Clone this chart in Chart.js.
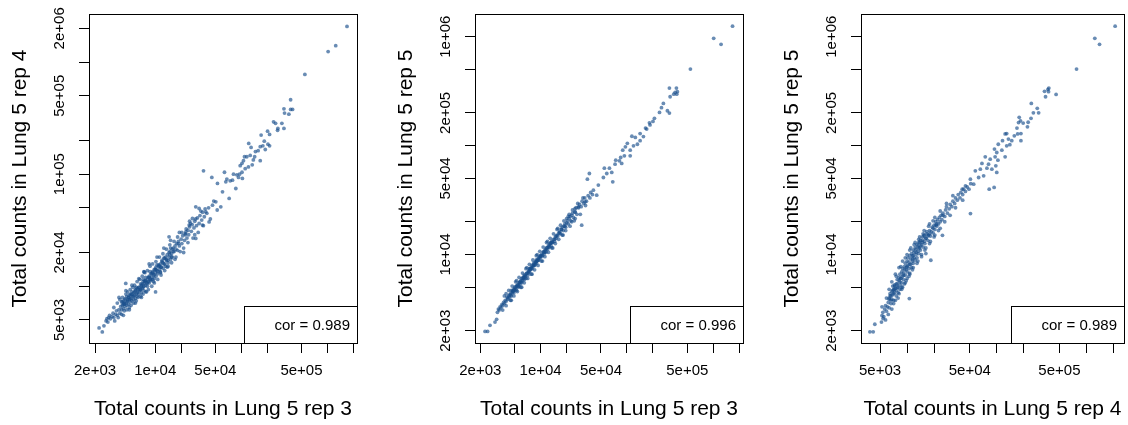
<!DOCTYPE html>
<html>
<head>
<meta charset="utf-8">
<title>Lung 5 replicate counts</title>
<script src="https://cdn.jsdelivr.net/npm/chart.js@4.4.1/dist/chart.umd.min.js"></script>
<style>
  body { margin: 0; background: #fff; }
  #wrap { position: relative; width: 1128px; height: 425px; overflow: hidden; }
  #wrap canvas { position: absolute; top: 0; }
</style>
</head>
<body>
<div id="wrap">
  <canvas id="rep3rep4" width="376" height="425" style="left:0px"></canvas>
  <canvas id="rep3rep5" width="376" height="425" style="left:376px"></canvas>
  <canvas id="rep4rep5" width="376" height="425" style="left:752px"></canvas>
</div>
<script>
// total counts per gene, [first replicate, second replicate]
const rep3VsRep4 = [
  [1690000, 2080000], [1250000, 1400000], [1020000, 1240000], [548000, 776000], [374000, 461000],
  [313000, 383000], [374000, 378000], [394000, 378000], [318000, 351000], [357000, 343000],
  [237000, 293000], [250000, 284000], [296000, 284000], [266000, 256000], [264000, 246000],
  [313000, 256000], [170000, 223000], [202000, 242000], [213000, 226000], [185000, 197000],
  [122000, 188000], [130000, 173000], [204000, 185000], [213000, 179000], [190000, 166000],
  [178000, 179000], [166000, 176000], [157000, 162000], [146000, 159000], [127000, 147000],
  [116000, 143000], [109000, 143000], [106000, 132000], [143000, 143000], [138000, 134000],
  [166000, 132000], [102000, 125000], [97100, 119000], [134000, 121000], [121000, 116000],
  [111000, 112000], [102000, 104000], [95400, 100000], [88800, 98700], [81200, 100000],
  [36400, 107000], [45500, 93400], [63800, 104000], [68000, 90300], [74300, 87200], [92800, 93400],
  [52900, 82600], [66100, 85500], [79100, 88300], [86400, 74500], [60500, 69600], [72300, 60700],
  [50600, 56600], [29600, 51100], [32400, 49400], [38700, 46100], [46300, 52900], [57800, 51100],
  [27100, 40200], [24800, 35100], [35400, 35100], [42300, 37500], [22700, 30600], [29600, 26700],
  [103000, 91500], [4550, 10600], [7430, 13400], [14500, 27600], [10100, 8900],
  [2230, 4250], [2430, 3910], [2540, 4430],
  [2690, 4900], [2750, 5130], [2820, 4790], [2880, 5250], [2950, 5500], [3020, 5130], [3160, 5370],
  [3240, 5750], [3310, 5250], [3470, 5620], [3550, 6030], [3630, 5500], [3800, 6170], [3890, 5750],
  [3980, 6610], [4070, 6170], [4070, 7240], [4170, 6760], [4270, 6310], [4270, 7410], [4370, 6920],
  [4470, 6610], [4470, 7760], [4570, 7080], [4680, 6760], [4680, 8130], [4790, 7410], [4900, 6920],
  [4900, 7940], [5010, 7590], [5130, 7240], [5130, 8510], [5250, 7760], [5370, 7410], [5370, 8910],
  [5500, 8130], [5620, 7590], [5620, 8710], [5750, 8320], [5890, 7760], [5890, 9330], [6030, 8510],
  [6170, 8130], [6170, 9550], [6310, 8910],
  [6460, 9770], [6460, 8510], [6610, 9120], [6760, 10500], [6760, 9330], [6920, 8710], [6920, 10200],
  [7080, 9550], [7240, 11000], [7240, 9770], [7410, 10500], [7410, 9120], [7590, 11200], [7760, 10200],
  [7760, 12000], [7940, 10700], [8130, 11500], [8130, 10000], [8320, 11000], [8510, 12300], [8510, 10700],
  [8710, 11500], [8910, 12900], [8910, 11200], [9120, 12000], [9330, 11500], [9330, 13500], [9550, 12600],
  [9770, 11700], [9770, 14100],
  [10000, 13200], [10200, 12300], [10200, 14800], [10500, 13800], [10700, 12900], [11000, 15100],
  [11200, 14100], [11500, 15800], [11500, 13500], [11700, 14800], [12000, 16600], [12300, 14500],
  [12600, 15800], [12900, 17800], [13200, 15100], [13500, 17000], [13800, 19100], [14100, 16200],
  [14500, 18200], [14800, 20400], [15100, 17400], [15500, 19500], [15800, 21400], [15800, 18200],
  [16600, 20400], [17000, 22900], [17400, 21400], [17800, 24000], [18200, 20900], [18600, 25100],
  [19100, 22900], [20000, 26300], [20400, 24000], [20900, 28200], [21900, 25700], [22400, 29500],
  [23400, 26900], [24000, 31600], [24500, 28800], [25100, 33900],
  [26300, 30900], [26900, 35500], [28200, 33100], [28800, 38000], [30200, 34700], [30900, 40700],
  [32400, 36300], [33100, 42700], [34700, 38900], [35500, 45700], [37200, 41700], [38000, 49000],
  [39800, 44700],
  [3310, 6460], [3390, 4900], [3630, 7080], [3720, 5250], [3890, 7590], [4070, 5620], [4170, 7940],
  [4370, 6030], [4570, 8510], [4680, 6170], [4790, 8910], [5010, 6460], [5130, 9330], [5250, 6760],
  [5500, 9770], [5620, 7080], [5750, 10200], [6030, 7410], [6170, 11000], [6310, 7940], [6610, 11500],
  [6760, 8130], [7080, 12300], [7240, 8510], [7590, 13200], [7760, 8910], [8130, 13800], [8320, 9330],
  [8710, 15100], [9120, 10000], [9330, 15800], [9770, 10700], [10200, 16600], [10700, 11500],
  [11200, 18200], [11700, 12600], [12300, 19500], [12900, 13800], [13500, 21400], [14100, 15100],
  [14800, 23400], [15500, 16200], [16600, 25100], [17400, 18200], [18200, 27500], [19500, 20400],
  [20400, 30200], [21400, 21900], [22900, 32400], [24000, 24500], [25700, 36300], [27500, 26900],
  [29500, 39800], [31600, 30200], [33900, 46800], [36300, 34700], [41700, 50100], [43700, 39800],
  [47900, 57500], [52500, 47900],
  [4370, 7080], [4790, 7590], [5250, 8320], [5750, 8910], [6310, 9330], [6920, 10000], [7590, 11000],
  [8320, 12000], [9120, 12900], [10000, 14100], [11000, 15500], [12000, 17000], [13200, 18200],
  [14500, 20000], [16200, 21900], [4170, 7240], [5010, 8320], [6030, 9770], [7240, 11500], [8710, 13500],
  [10500, 15500], [12600, 17800], [15100, 21900], [18600, 24000], [22400, 28800],
  [3800, 7940], [4270, 5500], [4570, 9120], [5010, 6170], [5370, 10200], [5890, 7080], [6460, 11700],
  [6920, 7940], [7410, 13500], [7940, 8910], [8510, 15800], [9550, 11000], [10500, 18200], [11500, 13200],
  [12600, 21900], [13800, 14800], [15100, 25700], [17000, 17400], [19100, 30200], [21400, 20000],
  [25100, 38000], [28800, 28800],
  [4270, 6920], [4470, 7590], [4680, 7240], [4900, 7940], [5130, 7760], [5370, 8510], [5620, 8130],
  [5890, 9120], [6170, 8710], [6460, 9770], [6760, 9330], [7080, 10500], [7410, 10000], [7760, 11200],
  [8130, 10700], [8510, 12000], [8910, 11500], [9330, 13200], [9770, 12600], [10200, 14100],
  [10700, 13500], [11200, 15100], [11700, 14800], [12300, 16200], [12900, 15800], [13500, 17400],
  [14100, 17000], [14800, 19100], [15500, 18200], [16200, 20400]
];

const rep3VsRep5 = [
  [1670000, 1250000], [1010000, 966000], [1230000, 851000], [543000, 505000], [310000, 338000],
  [374000, 338000], [361000, 308000], [384000, 313000], [377000, 297000], [348000, 297000],
  [316000, 281000], [264000, 244000], [251000, 223000], [238000, 202000], [294000, 209000],
  [310000, 199000], [208000, 178000], [200000, 167000], [182000, 162000], [185000, 155000],
  [164000, 145000], [142000, 129000], [169000, 142000], [114000, 122000], [125000, 119000],
  [155000, 121000], [142000, 111000], [132000, 103000], [101000, 105000], [95900, 97500],
  [119000, 99600], [109000, 90900], [89300, 90900], [93300, 80600], [109000, 80600], [84600, 77800],
  [74100, 73600], [81700, 72600], [72800, 67600], [86900, 68600], [54700, 62100], [62600, 62100],
  [66600, 56700], [58300, 55500], [53300, 51000], [36700, 55500], [34800, 49200], [68400, 46500],
  [46600, 43400], [40800, 39000], [44600, 35100], [32700, 30500], [27400, 27400], [25000, 24700],
  [29900, 18600], [22900, 20000], [20000, 21400], [25000, 26400],
  [2270, 1970], [2430, 1970], [2590, 2240], [2960, 2400], [3090, 2540],
  [3160, 2950], [3240, 3160], [3310, 3090], [3390, 3310], [3470, 3240], [3550, 3470], [3630, 3390],
  [3720, 3630], [3800, 3550], [3890, 3800], [3980, 3720], [4070, 4070], [4170, 3890], [4270, 4170],
  [4370, 4070], [4470, 4370],
  [4570, 4170], [4570, 4680], [4680, 4470], [4790, 4570], [4900, 4790], [4900, 4470], [5010, 5010],
  [5130, 4790], [5250, 5130], [5250, 4680], [5370, 5250], [5500, 5010], [5620, 5500], [5620, 5130],
  [5750, 5370], [5890, 5750], [6030, 5500], [6030, 6030], [6170, 5750], [6310, 6170], [6460, 5890],
  [6460, 6460], [6610, 6310], [6760, 6030], [6920, 6760], [7080, 6460],
  [7240, 7080], [7410, 6920], [7410, 7410], [7590, 7240], [7760, 7590], [7940, 7410], [7940, 7940],
  [8130, 7760], [8320, 8320], [8510, 7940], [8710, 8510], [8910, 8320], [8910, 8910], [9120, 8710],
  [9330, 9120], [9550, 8910], [9770, 9550], [10000, 9330], [10200, 10000], [10500, 9770], [10700, 10500],
  [11000, 10200], [11200, 11000],
  [11500, 10500], [11700, 11500], [12000, 11200], [12300, 12000], [12600, 11700], [12900, 12600],
  [13200, 12000], [13500, 13200], [13800, 12900], [14100, 13800], [14500, 13200], [14800, 14500],
  [15100, 14100], [15500, 15100], [15800, 14800], [16200, 15800], [16600, 16200], [17000, 15500],
  [17400, 17000], [17800, 17800], [18200, 16600], [18600, 18200], [19100, 19100], [19500, 17800],
  [20000, 19500],
  [20400, 20400], [20900, 19100], [21400, 21400], [21900, 22400], [22400, 20400], [22900, 22900],
  [23400, 24000], [24000, 21900], [25100, 24500], [25700, 26900], [26300, 23400], [27500, 26900],
  [28200, 28800], [29500, 27500], [30200, 30900], [31600, 29500], [32400, 33100], [33900, 30900],
  [35500, 34700], [37200, 33100], [38000, 37200], [39800, 35500],
  [3630, 3090], [3800, 4170], [3980, 3390], [4270, 4680], [4470, 3800], [4680, 5130], [4900, 4170],
  [5130, 5620], [5370, 4570], [5620, 6170], [5890, 5010], [6170, 6760], [6460, 5500], [6760, 7410],
  [7080, 6030], [7410, 8130], [7760, 6610], [8130, 8910], [8510, 7240], [8910, 9770], [9330, 7940],
  [9770, 10700], [10200, 8710], [10700, 11700], [11200, 9550], [11700, 12900], [12300, 10500],
  [12900, 14100], [13500, 11500], [14100, 15500], [14800, 12600], [15500, 17000], [16200, 13800],
  [17000, 18600], [17800, 15100], [18600, 20400], [19500, 16600], [20900, 22400], [21900, 18200],
  [23400, 25700], [24500, 20400], [26900, 29500], [28800, 23400], [30900, 33100], [33100, 28200],
  [4170, 3980], [4790, 4680], [5500, 5250], [6310, 6030], [7240, 6920], [8320, 7940], [9550, 9330],
  [11000, 10500], [12600, 12300], [14500, 13800], [16600, 15800], [19100, 18200], [4370, 4270],
  [5010, 4900], [5750, 5620], [6610, 6460], [7590, 7410], [8710, 8510], [10000, 9770], [11500, 11200],
  [13200, 12900], [15100, 14800], [17400, 17000],
  [3980, 4370], [4570, 3800], [5250, 5750], [6030, 5010], [6920, 7590], [7940, 6610], [9120, 10000],
  [10500, 8710], [12000, 13200], [13800, 11500], [15800, 17400], [18200, 15100], [21400, 23400],
  [25100, 21400],
  [4520, 4270], [4730, 4620], [4950, 4680], [5190, 5070], [5430, 5130], [5690, 5560], [5960, 5620],
  [6240, 6100], [6530, 6170], [6840, 6680], [7160, 6760], [7500, 7330], [7850, 7410], [8220, 8040],
  [8610, 8130], [9020, 8810], [9440, 8910], [9890, 9660], [10400, 9770], [10800, 10600], [11400, 10700],
  [11900, 11600], [12400, 11700], [13000, 12700], [13600, 12900]
];

const rep4VsRep5 = [
  [2090000, 1250000], [1240000, 966000], [1400000, 851000], [776000, 505000], [381000, 338000],
  [372000, 328000], [341000, 315000], [378000, 313000], [459000, 295000], [350000, 281000],
  [243000, 244000], [283000, 220000], [256000, 200000], [293000, 200000], [241000, 178000],
  [178000, 182000], [184000, 169000], [175000, 163000], [197000, 161000], [224000, 164000],
  [168000, 145000], [220000, 149000], [186000, 129000], [171000, 128000], [129000, 129000],
  [124000, 128000], [157000, 123000], [135000, 115000], [147000, 111000], [186000, 111000],
  [116000, 111000], [104000, 103000], [140000, 102000], [129000, 99600], [94300, 92900],
  [114000, 90900], [100000, 86500], [124000, 78900], [95900, 78900], [74400, 78900], [84500, 75100],
  [103000, 73600], [81000, 67600], [68400, 68600], [97600, 65300], [77700, 62100], [65600, 60800],
  [88200, 60800], [100000, 56700], [57700, 58700], [62800, 51000], [71400, 52800], [50800, 49200],
  [55300, 44300], [82400, 39800], [93500, 41300], [41200, 39800], [44800, 42700],
  [50900, 23800], [24800, 15000], [18400, 8860], [10600, 3940], [16200, 10200],
  [3850, 1950], [4190, 1950], [4370, 2290], [5180, 2400], [5400, 2580],
  [5250, 2750], [5500, 2690], [5370, 2950], [5620, 3160], [5890, 3020], [5750, 3390], [6030, 3310],
  [6170, 3630], [6310, 3240], [6310, 3890], [6610, 3550], [6460, 4170], [6760, 3890], [6920, 4270],
  [7080, 3800],
  [6920, 4680], [7240, 4470], [7410, 4900], [7240, 5130], [7590, 4170], [7590, 4680], [7760, 5370],
  [7940, 5010], [7940, 4470], [8130, 5750], [8320, 5250], [8320, 4790], [8510, 6030], [8710, 5500],
  [8710, 5010], [8910, 6310], [9120, 5890], [9120, 6760],
  [9330, 5370], [9330, 7240], [9550, 6460], [9770, 7590], [10000, 6920], [10000, 6030], [10200, 7940],
  [10500, 7410], [10500, 8510], [10700, 6610], [11000, 8130], [11000, 9120], [11200, 7590], [11500, 8710],
  [11500, 9770], [11700, 8320], [12000, 9330], [12000, 10500], [12300, 8910], [12600, 10000], [12600, 11200],
  [12900, 9330], [13200, 10700], [13200, 12000], [13500, 10200], [13800, 11500], [13800, 12900],
  [14100, 11000], [14500, 12300], [14800, 13500], [15100, 11700], [15500, 13200], [15500, 14800],
  [15800, 12600], [16200, 14100], [16600, 15500], [17000, 13500], [17400, 15100], [17800, 16600],
  [18200, 14800], [18600, 16200], [19100, 17800], [19500, 15800], [20000, 18600], [20400, 17000],
  [20900, 20000], [21400, 18200], [21900, 20900], [22400, 19100], [22900, 21900], [23400, 20000],
  [24000, 22900], [24500, 20900], [25100, 24000], [26300, 22400], [26900, 25700], [28200, 24000],
  [27500, 27500],
  [29500, 26300], [30200, 28800], [31600, 27500], [32400, 30900], [33900, 29500], [34700, 33100],
  [36300, 31600], [37200, 35500], [38900, 33100], [39800, 37200], [41700, 35500], [42700, 39800],
  [44700, 38000], [46800, 41700], [49000, 39800], [51300, 44700],
  [5750, 2510], [5250, 3310], [6760, 3160], [5890, 3980], [7410, 3800], [6310, 4790], [8130, 4370],
  [6760, 5620], [8910, 5010], [7410, 6610], [9770, 5750], [8130, 7590], [10700, 6760], [8910, 8710],
  [11700, 7590], [10000, 10000], [13200, 8710], [11000, 11500], [14500, 10000], [12300, 12900],
  [16200, 11500], [13800, 14500], [18200, 13200], [15500, 16600], [20400, 15100], [17800, 19100],
  [23400, 17400], [20400, 21900], [26300, 20000], [23400, 25100], [30200, 22900], [27500, 29500],
  [34700, 26900], [32400, 34700], [41700, 31600],
  [6610, 3800], [7080, 4370], [7760, 5010], [8320, 5620], [9120, 6460], [9770, 7240], [10700, 8130],
  [11500, 9120], [12600, 10500], [13500, 11500], [14800, 12900], [16200, 14100], [17800, 15500],
  [19500, 17400], [21400, 19100], [7240, 4790], [8510, 6030], [10000, 7760], [11700, 9770],
  [14100, 12000], [17000, 14800], [20900, 18600], [25100, 22900],
  [6170, 2820], [7080, 3550], [6460, 4370], [7940, 3980], [6920, 5130], [8710, 4790], [7590, 6310],
  [9550, 5500], [8510, 7760], [10500, 6310], [9550, 9330], [11500, 7240], [10700, 11000], [12900, 8320],
  [12000, 12300], [14500, 9550], [13500, 13800], [15800, 11000], [15100, 15500], [17800, 12600],
  [17400, 18200], [20000, 14500], [19500, 20400], [22400, 16600],
  [6310, 3980], [6610, 4170], [6760, 4570], [7080, 4790], [7240, 5250], [7590, 5370], [7760, 5890],
  [8130, 6170], [8320, 6610], [8710, 6920], [8910, 7410], [9330, 7760], [9550, 8320], [10000, 8710],
  [10200, 9330], [10700, 9770], [11200, 10200], [11700, 11000], [12300, 11500], [12900, 12300],
  [13500, 12900], [14100, 13500], [14800, 14500], [15500, 15100], [16600, 16200]
];

const corValues = [0.989, 0.996, 0.989];

// tick marks on the log axes; an empty label means a bare tick
const ticksFrom2e3 = [2e3, 5e3, 1e4, 2e4, 5e4, 1e5, 2e5, 5e5, 1e6, 2e6];
const labelsFrom2e3 = ['2e+03', '', '1e+04', '', '5e+04', '', '', '5e+05', '', ''];
const ticksFrom5e3 = [5e3, 1e4, 2e4, 5e4, 1e5, 2e5, 5e5, 1e6, 2e6];
const labelsFrom5e3X = ['5e+03', '', '', '5e+04', '', '', '5e+05', '', ''];
const labelsFrom5e3Y = ['5e+03', '', '2e+04', '', '1e+05', '', '5e+05', '', '2e+06'];
const ticksTo1e6 = [2e3, 5e3, 1e4, 2e4, 5e4, 1e5, 2e5, 5e5, 1e6];
const labelsTo1e6 = ['2e+03', '', '1e+04', '', '5e+04', '', '2e+05', '', '1e+06'];

const FONT = '"Liberation Sans", Arial, Helvetica, sans-serif';
Chart.defaults.font.family = FONT;
Chart.defaults.color = '#000';

const panels = [
  {
    id: 'rep3rep4', plot: [89, 357], points: rep3VsRep4, cor: corValues[0],
    xTitle: 'Total counts in Lung 5 rep 3', yTitle: 'Total counts in Lung 5 rep 4',
    x: { min: 1703, max: 2.208e6, ticks: ticksFrom2e3, labels: labelsFrom2e3 },
    y: { min: 3116, max: 2.684e6, ticks: ticksFrom5e3, labels: labelsFrom5e3Y }
  },
  {
    id: 'rep3rep5', plot: [99, 367], points: rep3VsRep5, cor: corValues[1],
    xTitle: 'Total counts in Lung 5 rep 3', yTitle: 'Total counts in Lung 5 rep 5',
    x: { min: 1736, max: 2.208e6, ticks: ticksFrom2e3, labels: labelsFrom2e3 },
    y: { min: 1541, max: 1.617e6, ticks: ticksTo1e6, labels: labelsTo1e6 }
  },
  {
    id: 'rep4rep5', plot: [109, 375], points: rep4VsRep5, cor: corValues[2],
    xTitle: 'Total counts in Lung 5 rep 4', yTitle: 'Total counts in Lung 5 rep 5',
    x: { min: 3063, max: 2.624e6, ticks: ticksFrom5e3, labels: labelsFrom5e3X },
    y: { min: 1541, max: 1.617e6, ticks: ticksTo1e6, labels: labelsTo1e6 }
  }
];

// "cor = ..." box tucked into the bottom-right corner of the plot
const corLegend = {
  id: 'corLegend',
  afterDraw(chart, args, opts) {
    const { ctx, chartArea } = chart;
    const w = 113, h = 37;
    const x0 = Math.round(chartArea.right - w), y0 = Math.round(chartArea.bottom - h);
    ctx.save();
    ctx.fillStyle = '#fff';
    ctx.fillRect(x0, y0, w, h);
    ctx.strokeStyle = '#000';
    ctx.lineWidth = 1;
    ctx.strokeRect(x0 + 0.5, y0 + 0.5, w, h);
    ctx.fillStyle = '#000';
    ctx.font = '15px ' + FONT;
    ctx.textAlign = 'right';
    ctx.textBaseline = 'middle';
    ctx.fillText(opts.text, chartArea.right - 7, y0 + h / 2 + 1);
    ctx.restore();
  }
};

function tickGrid() {
  return { display: true, drawOnChartArea: false, drawTicks: true, tickLength: 10, color: '#000', lineWidth: 1 };
}

function frameEdge(side) {
  // extra axis used only for its border line, so the plot gets a full box
  return {
    type: 'linear',
    position: side,
    ticks: { display: false },
    grid: { display: true, drawOnChartArea: false, drawTicks: false },
    border: { display: true, color: '#000', width: 1 },
    afterFit(s) { if (s.isHorizontal()) s.height = 0; else s.width = 0; }
  };
}

panels.forEach(p => {
  const canvas = document.getElementById(p.id);
  const left = p.plot[0];
  new Chart(canvas, {
    type: 'scatter',
    data: {
      datasets: [{
        data: p.points.map(([x, y]) => ({ x, y })),
        pointRadius: 1.9,
        pointBorderWidth: 0,
        pointBackgroundColor: 'rgba(24, 78, 140, 0.65)'
      }]
    },
    plugins: [corLegend],
    options: {
      responsive: false,
      devicePixelRatio: 1,
      animation: false,
      events: [],
      layout: { padding: { top: 14, right: canvas.width - p.plot[1], bottom: 0, left: 0 } },
      plugins: {
        legend: { display: false },
        tooltip: { enabled: false },
        corLegend: { text: 'cor = ' + p.cor.toFixed(3) }
      },
      scales: {
        x: {
          type: 'logarithmic',
          position: 'bottom',
          min: p.x.min,
          max: p.x.max,
          afterBuildTicks(s) { s.ticks = p.x.ticks.map(v => ({ value: v })); },
          afterFit(s) { s.height = 82; },
          grid: tickGrid(),
          border: { display: true, color: '#000', width: 1 },
          ticks: {
            autoSkip: false, maxRotation: 0, minRotation: 0, padding: 9,
            font: { size: 15 },
            callback: (v, i) => p.x.labels[i]
          },
          title: { display: true, text: p.xTitle, font: { size: 21 }, padding: { top: 0, bottom: 3 } }
        },
        y: {
          type: 'logarithmic',
          position: 'left',
          min: p.y.min,
          max: p.y.max,
          afterBuildTicks(s) { s.ticks = p.y.ticks.map(v => ({ value: v })); },
          afterFit(s) { s.width = left; },
          grid: tickGrid(),
          border: { display: true, color: '#000', width: 1 },
          ticks: {
            autoSkip: false, minRotation: 90, maxRotation: 90, crossAlign: 'center', padding: -1.5,
            font: { size: 15 },
            callback: (v, i) => p.y.labels[i]
          },
          title: { display: true, text: p.yTitle, font: { size: 21 }, padding: { top: left - 81.6, bottom: 0 } }
        },
        xTop: frameEdge('top'),
        yRight: frameEdge('right')
      }
    }
  });
});
</script>
</body>
</html>
